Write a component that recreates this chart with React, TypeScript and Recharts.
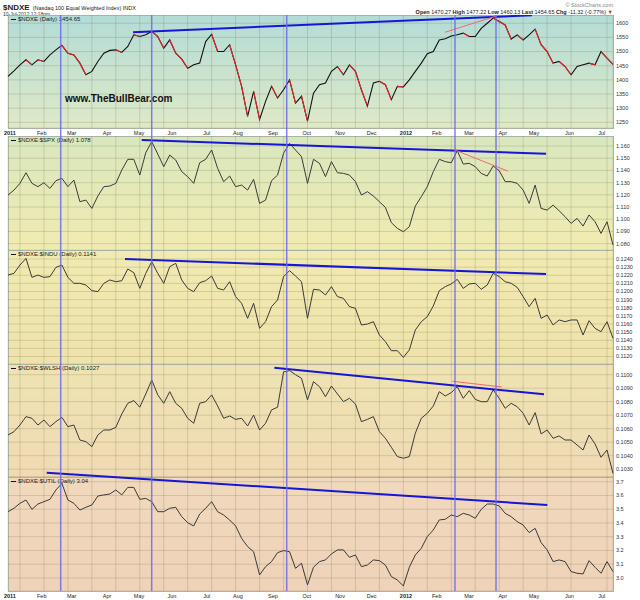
import React from "react";
import { LineChart, Line, XAxis, YAxis, CartesianGrid, ReferenceLine } from "recharts";

const FONT = "'Liberation Sans', Arial, sans-serif";
const PLOT_LEFT = 8;
const AXIS_W = 27;

// one sample every ~4 trading days, 3 Jan 2011 .. 10 Jul 2012
const ndxe = [
  1412, 1432, 1453, 1471, 1453, 1471, 1465, 1488, 1506, 1522,
  1494, 1488, 1459, 1418, 1430, 1465, 1494, 1504, 1506, 1497,
  1518, 1559, 1553, 1559, 1571, 1553, 1512, 1541, 1494, 1473,
  1441, 1453, 1459, 1535, 1561, 1500, 1500, 1524, 1453, 1377,
  1271, 1359, 1260, 1324, 1377, 1336, 1365, 1400, 1318, 1342,
  1254, 1353, 1383, 1389, 1430, 1447, 1418, 1453, 1430, 1365,
  1307, 1389, 1395, 1383, 1330, 1377, 1375, 1400, 1430, 1459,
  1492, 1500, 1541, 1545, 1555, 1559, 1565, 1553, 1553, 1582,
  1600, 1618, 1606, 1594, 1544, 1559, 1541, 1559, 1579, 1524,
  1500, 1459, 1465, 1447, 1418, 1447, 1453, 1459, 1453, 1500,
  1477, 1455,
];

const spx = [
  1.1198, 1.1239, 1.1294, 1.1381, 1.1294, 1.1267, 1.1299, 1.1253, 1.1316, 1.1335,
  1.1267, 1.1321, 1.1144, 1.1157, 1.1089, 1.119, 1.1267, 1.1272, 1.1294, 1.1403,
  1.1491, 1.1491, 1.1362, 1.1545, 1.1636, 1.1534, 1.1431, 1.1526, 1.1485, 1.139,
  1.1349, 1.1294, 1.1463, 1.1491, 1.1567, 1.1417, 1.1308, 1.1354, 1.1267, 1.128,
  1.1239, 1.1327, 1.113, 1.1157, 1.1316, 1.1362, 1.154, 1.1622, 1.1567, 1.1513,
  1.1294, 1.1491, 1.1458, 1.1349, 1.1472, 1.1381, 1.1376, 1.1362, 1.1308, 1.1198,
  1.1226, 1.119, 1.1144, 1.1097, 1.0972, 1.0925, 1.0898, 1.0939, 1.1108, 1.1185,
  1.1267, 1.139, 1.1491, 1.1472, 1.1463, 1.1562, 1.1452, 1.1458, 1.1431, 1.1376,
  1.1354, 1.1436, 1.1398, 1.1308, 1.1308, 1.1294, 1.1239, 1.113, 1.128, 1.1089,
  1.1075, 1.1116, 1.107, 1.1021, 1.0966, 1.1007, 1.0944, 1.1035, 1.098, 1.0884,
  1.098, 1.0789,
];

const indu = [
  0.12203, 0.12224, 0.12326, 0.12408, 0.12174, 0.12203, 0.12174, 0.12183, 0.12297, 0.12326,
  0.12174, 0.12101, 0.12101, 0.1208, 0.12011, 0.11998, 0.12101, 0.12142, 0.12121, 0.12133,
  0.12277, 0.12232, 0.12039, 0.12224, 0.12367, 0.12224, 0.12101, 0.12306, 0.12347, 0.12142,
  0.12039, 0.11998, 0.12109, 0.12133, 0.12191, 0.12039, 0.12019, 0.12121, 0.11937, 0.11855,
  0.1167, 0.11855, 0.11547, 0.11629, 0.11814, 0.11896, 0.12183, 0.12257, 0.12191, 0.12121,
  0.1167, 0.12027, 0.12019, 0.11957, 0.1206, 0.11937, 0.11916, 0.11814, 0.11793, 0.11588,
  0.116, 0.11629, 0.11465, 0.11383, 0.11272, 0.11272, 0.1119, 0.11281, 0.11527, 0.11629,
  0.11691, 0.11822, 0.12011, 0.1206, 0.12093, 0.1215, 0.12039, 0.12093, 0.12101, 0.12027,
  0.1208, 0.12224, 0.12183, 0.12121, 0.12101, 0.12052, 0.11937, 0.11814, 0.11916, 0.1167,
  0.11711, 0.11588, 0.1165, 0.11629, 0.1165, 0.1165, 0.11465, 0.11641, 0.11547, 0.11506,
  0.11629, 0.11424,
];

const wlsh = [
  0.10553, 0.10578, 0.10627, 0.10689, 0.10677, 0.10627, 0.10664, 0.10615, 0.10652, 0.10684,
  0.10615, 0.10627, 0.10516, 0.10504, 0.10467, 0.10553, 0.1059, 0.1059, 0.1061, 0.10709,
  0.10788, 0.10808, 0.10759, 0.10857, 0.10961, 0.1085, 0.10788, 0.10874, 0.10788, 0.10751,
  0.10677, 0.1064, 0.10788, 0.108, 0.1085, 0.10768, 0.10677, 0.10694, 0.10669, 0.10677,
  0.1062, 0.10701, 0.1059, 0.1064, 0.10739, 0.10759, 0.1102, 0.1103, 0.11, 0.10973,
  0.10813, 0.10948, 0.10911, 0.10837, 0.10916, 0.10857, 0.108, 0.10825, 0.10783, 0.10652,
  0.10669, 0.10689, 0.10578, 0.10529, 0.10462, 0.10393, 0.10381, 0.10393, 0.10566, 0.10677,
  0.10714, 0.10768, 0.10874, 0.10842, 0.10867, 0.10911, 0.10825, 0.10882, 0.10817, 0.108,
  0.108, 0.10887, 0.10825, 0.10751, 0.10788, 0.10763, 0.10714, 0.10627, 0.10719, 0.10561,
  0.1059, 0.10529, 0.10546, 0.10516, 0.10516, 0.10479, 0.10442, 0.10553, 0.10487, 0.10388,
  0.10442, 0.10269,
];

const util = [
  3.482, 3.507, 3.543, 3.567, 3.499, 3.538, 3.555, 3.572, 3.64, 3.688,
  3.567, 3.543, 3.494, 3.514, 3.531, 3.596, 3.604, 3.611, 3.64, 3.604,
  3.659, 3.659, 3.572, 3.579, 3.555, 3.482, 3.482, 3.507, 3.514, 3.446,
  3.402, 3.378, 3.465, 3.507, 3.555, 3.482, 3.458, 3.422, 3.378, 3.288,
  3.228, 3.191, 3.022, 3.082, 3.119, 3.184, 3.199, 3.191, 3.07, 3.107,
  2.949, 3.078, 3.119, 3.131, 3.175, 3.204, 3.204, 3.15, 3.167, 3.082,
  3.094, 3.131, 3.126, 3.094, 3.01, 2.985, 2.942, 3.078, 3.167, 3.216,
  3.301, 3.349, 3.422, 3.427, 3.458, 3.446, 3.47, 3.458, 3.434, 3.499,
  3.538, 3.538, 3.524, 3.47, 3.446, 3.41, 3.385, 3.33, 3.361, 3.257,
  3.204, 3.119, 3.131, 3.119, 3.046, 3.034, 3.029, 3.126, 3.078, 3.034,
  3.119, 3.046,
];

// date axis: position (sample index) and label
const monthPos = [0.33, 5.63, 10.63, 16.53, 21.87, 27.38, 33.17, 38.4, 44.24, 49.87, 55.43, 60.72, 66.44, 71.57, 76.96, 82.59, 87.81, 93.71, 99.12];
const monthLabels = ["2011", "Feb", "Mar", "Apr", "May", "Jun", "Jul", "Aug", "Sep", "Oct", "Nov", "Dec", "2012", "Feb", "Mar", "Apr", "May", "Jun", "Jul"];

const p1Ticks = [1250, 1300, 1350, 1400, 1450, 1500, 1550, 1600];
const p2Ticks = [1.08, 1.09, 1.1, 1.11, 1.12, 1.13, 1.14, 1.15, 1.16];
const p3Ticks = [0.112, 0.113, 0.114, 0.115, 0.116, 0.117, 0.118, 0.119, 0.12, 0.121, 0.122, 0.123, 0.124];
const p4Ticks = [0.103, 0.104, 0.105, 0.106, 0.107, 0.108, 0.109, 0.11];
const p5Ticks = [3.0, 3.1, 3.2, 3.3, 3.4, 3.5, 3.6, 3.7];

// hand-drawn annotations (sample index / value)
const markerDates = [8.8, 23.99, 46.53, 74.62, 81.47];
const p1Blue = [{ x: 20.87, y: 1568 }, { x: 87.48, y: 1628 }];
const p1Red = [{ x: 72.95, y: 1568 }, { x: 81.59, y: 1626 }];
const p2Blue = [{ x: 22.32, y: 1.1649 }, { x: 89.82, y: 1.1537 }];
const p2Red = [{ x: 74.62, y: 1.1567 }, { x: 83.42, y: 1.1395 }];
const p3Blue = [{ x: 19.53, y: 0.124 }, { x: 89.82, y: 0.12215 }];
const p4Blue = [{ x: 44.46, y: 0.11052 }, { x: 89.48, y: 0.10855 }];
const p4Red = [{ x: 74.17, y: 0.10951 }, { x: 82.42, y: 0.10909 }];
const p5Blue = [{ x: 6.46, y: 3.766 }, { x: 90.03, y: 3.531 }];

const last = ndxe.length - 1;
const gridTicks = Array.from({ length: 51 }, (_, i) => i * 2);

// split falling segments of the price line into 3 interleaved series so they draw red
const downKey = (i: number, r: number) => {
  const from = i < last && ndxe[i + 1] < ndxe[i] && i % 3 === r;
  const to = i > 0 && ndxe[i] < ndxe[i - 1] && (i - 1) % 3 === r;
  return from || to ? ndxe[i] : null;
};

const rows = ndxe.map((v, i) => ({
  i,
  ndxe: v,
  d0: downKey(i, 0),
  d1: downKey(i, 1),
  d2: downKey(i, 2),
  spx: spx[i],
  indu: indu[i],
  wlsh: wlsh[i],
  util: util[i],
}));

const DateTick = (props: any) => {
  const { x, y, payload } = props;
  const label = monthLabels[monthPos.indexOf(payload.value)] ?? "";
  const year = /^\d{4}$/.test(label);
  return (
    <text x={x} y={y + 6.5} textAnchor="middle" fontSize={5.5} fontFamily={FONT} fontWeight={year ? 700 : 400} fill="#222">
      {label}
    </text>
  );
};

const BLUE = "#1616d6";
const RED = "#ee6b6b";

function Panel(props: {
  top: number;
  plotH: number;
  padTop?: number;
  dates?: boolean;
  domain: [number, number];
  ticks: number[];
  fmt: (v: number) => string;
  label: string;
  bg: [string, string];
  children: React.ReactNode;
}) {
  const padTop = props.padTop ?? 0;
  const dateH = props.dates ? 10 : 0;
  return (
    <>
      <div
        style={{
          position: "absolute",
          left: PLOT_LEFT,
          top: props.top,
          width: 640 - PLOT_LEFT - AXIS_W + 1,
          height: props.plotH + 1,
          boxSizing: "border-box",
          border: "1px solid #b3bbad",
          background: `linear-gradient(${props.bg[0]}, ${props.bg[1]})`,
        }}
      />
      <div style={{ position: "absolute", left: 0, top: props.top - padTop }}>
        <LineChart width={640} height={padTop + props.plotH + dateH} data={rows} margin={{ top: padTop, right: 0, bottom: 0, left: PLOT_LEFT }}>
          <XAxis xAxisId="grid" dataKey="i" type="number" domain={[0, last]} ticks={gridTicks} hide />
          <CartesianGrid xAxisId="grid" stroke="rgba(90,100,60,0.2)" strokeWidth={1} />
          <XAxis
            dataKey="i"
            type="number"
            domain={[0, last]}
            ticks={monthPos}
            interval={0}
            hide={!props.dates}
            height={dateH}
            tick={DateTick}
            tickLine={false}
            axisLine={false}
            tickSize={0}
            tickMargin={0}
          />
          <YAxis
            orientation="right"
            width={AXIS_W}
            type="number"
            domain={props.domain}
            allowDataOverflow
            ticks={props.ticks}
            interval={0}
            tickFormatter={props.fmt}
            tickLine={false}
            axisLine={false}
            tickSize={3}
            tickMargin={0}
            tick={{ fontSize: 5.5, fill: "#333", fontFamily: FONT }}
          />
          {props.children}
        </LineChart>
      </div>
      <div
        style={{
          position: "absolute",
          left: PLOT_LEFT + 3,
          top: props.top + 1,
          fontSize: 6,
          lineHeight: "7px",
          fontFamily: FONT,
          color: "#222",
          whiteSpace: "nowrap",
        }}
      >
        <span style={{ display: "inline-block", width: 5, height: 1.5, background: "#111", verticalAlign: "middle", marginRight: 2 }} />
        {props.label}
      </div>
    </>
  );
}

const seriesLine = (key: string) => (
  <Line dataKey={key} type="linear" stroke="#3a3a3a" strokeWidth={1} dot={false} isAnimationActive={false} />
);

export default function App() {
  return (
    <div style={{ position: "absolute", left: 0, top: 0, width: 640, height: 600, background: "#fff", fontFamily: FONT, overflow: "hidden" }}>
      {/* header */}
      <div style={{ position: "absolute", left: 3, top: 0, whiteSpace: "nowrap", color: "#222", lineHeight: "9px", height: 9 }}>
        <span style={{ fontSize: 8, fontWeight: 700 }}>$NDXE</span>
        <span style={{ fontSize: 5.5, marginLeft: 3 }}>(Nasdaq 100 Equal Weighted Index) INDX</span>
      </div>
      <div style={{ position: "absolute", left: 3, top: 11, fontSize: 5, lineHeight: "6px", color: "#333", whiteSpace: "nowrap" }}>10-Jul-2012 12:18pm</div>
      <div style={{ position: "absolute", right: 27, top: 2, fontSize: 5.5, lineHeight: "6px", color: "#888", whiteSpace: "nowrap" }}>© StockCharts.com</div>
      <div style={{ position: "absolute", right: 27, top: 9, fontSize: 5.5, lineHeight: "6px", color: "#222", whiteSpace: "nowrap" }}>
        <b>Open</b> 1470.27 <b>High</b> 1477.22 <b>Low</b> 1460.13 <b>Last</b> 1454.65 <b>Chg</b> -11.32 (-0.77%){" "}
        <span style={{ color: "#d22" }}>▼</span>
      </div>

      <Panel top={15} plotH={113} dates domain={[1230, 1629]} ticks={p1Ticks} fmt={(v) => String(v)} label="$NDXE (Daily) 1454.65" bg={["#b3dcd7", "#dfe9c7"]}>
        <Line dataKey="ndxe" type="linear" stroke="#111" strokeWidth={1.1} dot={false} isAnimationActive={false} />
        <Line dataKey="d0" type="linear" stroke="#e3262b" strokeWidth={1.1} dot={false} connectNulls={false} isAnimationActive={false} />
        <Line dataKey="d1" type="linear" stroke="#e3262b" strokeWidth={1.1} dot={false} connectNulls={false} isAnimationActive={false} />
        <Line dataKey="d2" type="linear" stroke="#e3262b" strokeWidth={1.1} dot={false} connectNulls={false} isAnimationActive={false} />
        <ReferenceLine segment={p1Blue} stroke={BLUE} strokeWidth={2} ifOverflow="visible" />
        <ReferenceLine segment={p1Red} stroke={RED} strokeWidth={1} ifOverflow="visible" />
      </Panel>
      <div style={{ position: "absolute", left: 65, top: 93, fontSize: 10, fontWeight: 700, color: "#111", whiteSpace: "nowrap" }}>www.TheBullBear.com</div>

      <Panel top={136} plotH={114} domain={[1.0748, 1.1682]} ticks={p2Ticks} fmt={(v) => v.toFixed(3)} label="$NDXE:$SPX (Daily) 1.078" bg={["#d9e7be", "#f1ebb1"]}>
        {seriesLine("spx")}
        <ReferenceLine segment={p2Blue} stroke={BLUE} strokeWidth={2} />
        <ReferenceLine segment={p2Red} stroke={RED} strokeWidth={1} />
      </Panel>

      <Panel top={250} plotH={114} domain={[0.11108, 0.12511]} ticks={p3Ticks} fmt={(v) => v.toFixed(4)} label="$NDXE:$INDU (Daily) 0.1141" bg={["#f1eab1", "#efe2ab"]}>
        {seriesLine("indu")}
        <ReferenceLine segment={p3Blue} stroke={BLUE} strokeWidth={2} />
      </Panel>

      <Panel top={364} plotH={113} domain={[0.10242, 0.11079]} ticks={p4Ticks} fmt={(v) => v.toFixed(4)} label="$NDXE:$WLSH (Daily) 0.1027" bg={["#efe3b2", "#f0dab4"]}>
        {seriesLine("wlsh")}
        <ReferenceLine segment={p4Blue} stroke={BLUE} strokeWidth={2} />
        <ReferenceLine segment={p4Red} stroke={RED} strokeWidth={1} />
      </Panel>

      <Panel top={477} plotH={114} padTop={8} dates domain={[2.905, 3.7345]} ticks={p5Ticks} fmt={(v) => v.toFixed(1)} label="$NDXE:$UTIL (Daily) 3.04" bg={["#f1d9bc", "#efd2b9"]}>
        {seriesLine("util")}
        <ReferenceLine segment={p5Blue} stroke={BLUE} strokeWidth={2} ifOverflow="visible" />
      </Panel>

      {/* vertical markers across all panels */}
      <div style={{ position: "absolute", left: 0, top: 15 }}>
        <LineChart width={640} height={576} data={rows} margin={{ top: 0, right: AXIS_W, bottom: 0, left: PLOT_LEFT }}>
          <XAxis dataKey="i" type="number" domain={[0, last]} hide />
          <YAxis type="number" domain={[1000, 2000]} allowDataOverflow hide />
          <Line dataKey="ndxe" stroke="#000" strokeOpacity={0} strokeWidth={0} dot={false} activeDot={false} isAnimationActive={false} />
          {markerDates.map((d) => (
            <ReferenceLine key={d} x={d} stroke="#6b6be8" strokeOpacity={0.85} strokeWidth={1.5} />
          ))}
        </LineChart>
      </div>
    </div>
  );
}
